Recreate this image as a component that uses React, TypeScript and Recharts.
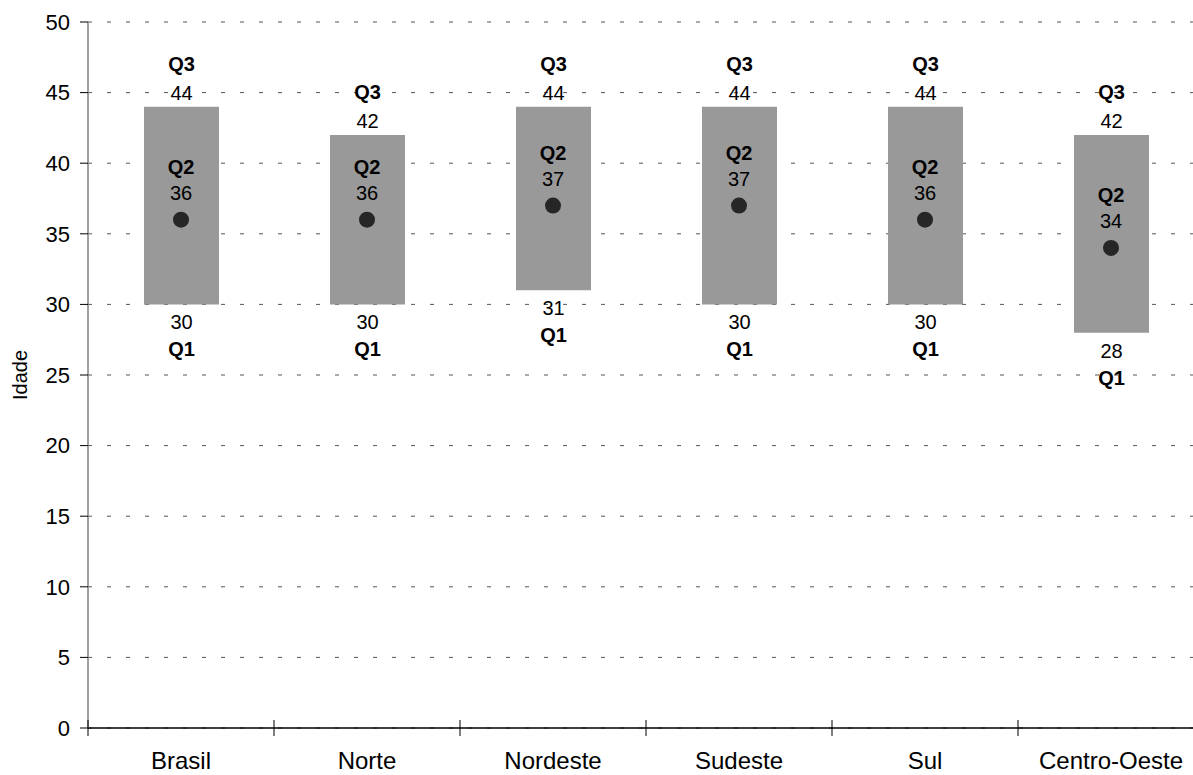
import { ComposedChart, Bar, Scatter, XAxis, YAxis, CartesianGrid } from 'recharts';

const categories = ['Brasil', 'Norte', 'Nordeste', 'Sudeste', 'Sul', 'Centro-Oeste'];
const q1 = [30, 30, 31, 30, 30, 28];
const q2 = [36, 36, 37, 37, 36, 34];
const q3 = [44, 42, 44, 44, 44, 42];
const yTicks = [0, 5, 10, 15, 20, 25, 30, 35, 40, 45, 50];

const data = categories.map((name, i) => ({ name, q1: q1[i], q2: q2[i], q3: q3[i], range: [q1[i], q3[i]] }));

const font = 'Arial, "Liberation Sans", sans-serif';

function XTick(props: any) {
  const { x, y, payload, width, visibleTicksCount } = props;
  const half = width / visibleTicksCount / 2;
  return (
    <g>
      <line x1={x - half} x2={x - half} y1={y - 8} y2={y + 8} stroke="#000" strokeWidth={1} />
      <text x={x} y={y + 32} textAnchor="middle" dominantBaseline="central" fontSize={24} fontFamily={font} fill="#000">
        {payload.value}
      </text>
    </g>
  );
}

function QuartileLabels(props: any) {
  const { x, y, width, height, index } = props;
  const cx = x + width / 2;
  const top = Math.min(y, y + height);
  const bottom = Math.max(y, y + height);
  return (
    <g fontFamily={font} fill="#000" textAnchor="middle">
      <text x={cx} y={top - 43} dominantBaseline="central" fontSize={20} fontWeight="bold">Q3</text>
      <text x={cx} y={top - 14} dominantBaseline="central" fontSize={20}>{q3[index]}</text>
      <text x={cx} y={bottom + 18} dominantBaseline="central" fontSize={20}>{q1[index]}</text>
      <text x={cx} y={bottom + 45} dominantBaseline="central" fontSize={20} fontWeight="bold">Q1</text>
    </g>
  );
}

function MedianDot(props: any) {
  const { cx, cy, payload } = props;
  return (
    <g fontFamily={font} fill="#000" textAnchor="middle">
      <text x={cx} y={cy - 53} dominantBaseline="central" fontSize={20} fontWeight="bold">Q2</text>
      <text x={cx} y={cy - 27} dominantBaseline="central" fontSize={20}>{payload.q2}</text>
      <circle cx={cx} cy={cy} r={8} fill="#262626" />
    </g>
  );
}

export default function App() {
  return (
    <div style={{ position: 'absolute', left: 0, top: 0, width: 1193, height: 775, overflow: 'hidden', background: '#fff' }}>
      <ComposedChart width={1230} height={775} data={data} margin={{ top: 22, right: 26, left: 28, bottom: 0 }}>
        <CartesianGrid vertical={false} stroke="#555" strokeDasharray="4 15" />
        <XAxis
          dataKey="name"
          height={47}
          tickSize={0}
          tickMargin={0}
          axisLine={{ stroke: '#000', strokeWidth: 1.5 }}
          tick={<XTick />}
          interval={0}
        />
        <YAxis
          domain={[0, 50]}
          ticks={yTicks}
          width={60}
          tickSize={8}
          tickMargin={10}
          tickLine={{ stroke: '#000' }}
          axisLine={{ stroke: '#808080', strokeWidth: 1.5 }}
          tick={{ fontSize: 22, fill: '#000', fontFamily: font }}
          label={{
            content: ({ viewBox }: any) => (
              <text
                x={viewBox.x - 8}
                y={viewBox.y + viewBox.height / 2}
                transform={`rotate(-90 ${viewBox.x - 8} ${viewBox.y + viewBox.height / 2})`}
                textAnchor="middle"
                dominantBaseline="central"
                fontSize={20}
                fontFamily={font}
                fill="#000"
              >
                Idade
              </text>
            ),
          }}
        />
        <Bar dataKey="range" fill="#999999" barSize={75} isAnimationActive={false} label={<QuartileLabels />} />
        <Scatter dataKey="q2" shape={<MedianDot />} isAnimationActive={false} />
      </ComposedChart>
    </div>
  );
}
